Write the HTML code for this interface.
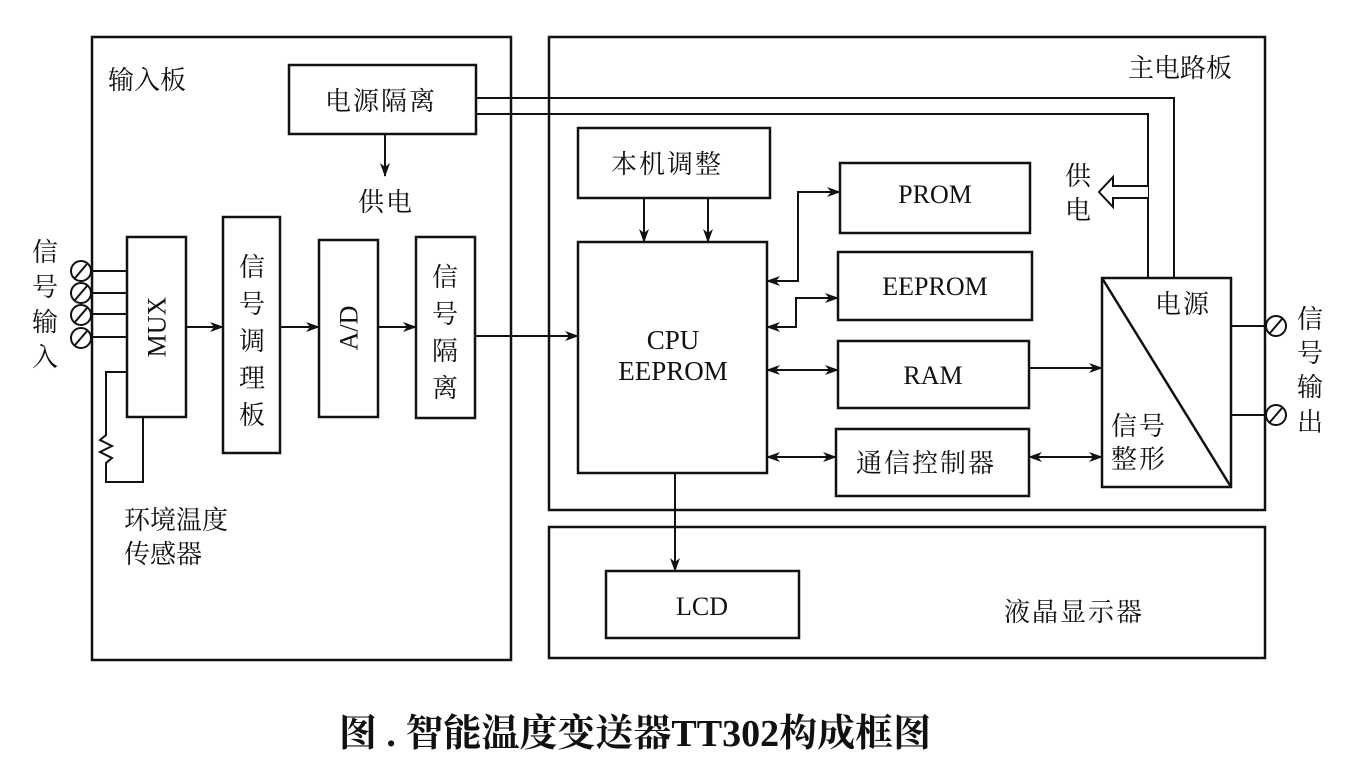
<!DOCTYPE html>
<html><head><meta charset="utf-8"><style>
html,body{margin:0;padding:0;background:#fff;}
svg{display:block;}
text{font-family:"Liberation Serif","Noto Serif CJK SC","Noto Sans CJK SC",serif;fill:#111;}
.c{font-family:"Noto Serif CJK SC","Noto Sans CJK SC",serif;font-size:26px;}
</style></head><body>
<svg width="1362" height="776" viewBox="0 0 1362 776" xmlns="http://www.w3.org/2000/svg">
<defs>
<marker id="a" markerWidth="14" markerHeight="10" refX="13" refY="5" orient="auto-start-reverse" markerUnits="userSpaceOnUse">
<path d="M0,0 L14,5 L0,10 L4,5 Z" fill="#111"/></marker>
</defs>
<g fill="none" stroke="#111" stroke-width="2.5">
<rect x="92" y="37" width="419" height="623"/>
<rect x="549" y="37" width="716" height="473"/>
<rect x="549" y="527" width="716" height="131"/>
<rect x="289" y="65" width="187" height="69"/>
<rect x="127" y="237" width="59" height="180"/>
<rect x="223" y="217" width="57" height="236"/>
<rect x="319" y="240" width="59" height="177"/>
<rect x="416" y="237" width="59" height="181"/>
<rect x="578" y="128" width="192" height="70"/>
<rect x="578" y="242" width="189" height="231"/>
<rect x="840" y="163" width="190" height="70"/>
<rect x="838" y="252" width="194" height="68"/>
<rect x="838" y="341" width="191" height="67"/>
<rect x="836" y="429" width="193" height="67"/>
<rect x="1102" y="278" width="129" height="209"/>
<line x1="1102" y1="278" x2="1231" y2="487"/>
<rect x="606" y="571" width="193" height="67"/>
</g>
<g fill="none" stroke="#111" stroke-width="2">
<line x1="92" y1="271" x2="127" y2="271"/>
<line x1="92" y1="293" x2="127" y2="293"/>
<line x1="92" y1="314" x2="127" y2="314"/>
<line x1="92" y1="337" x2="127" y2="337"/>
<circle cx="81" cy="271" r="10" fill="#fff"/><line x1="75" y1="278" x2="87" y2="264"/>
<circle cx="81" cy="293" r="10" fill="#fff"/><line x1="75" y1="300" x2="87" y2="286"/>
<circle cx="81" cy="315" r="10" fill="#fff"/><line x1="75" y1="322" x2="87" y2="308"/>
<circle cx="81" cy="338" r="10" fill="#fff"/><line x1="75" y1="345" x2="87" y2="331"/>
<polyline points="127,372 106,372 106,435 100,440 112,446 100,452 112,458 106,463 106,482 143,482 143,417"/>
<line x1="186" y1="327" x2="223" y2="327" marker-end="url(#a)"/>
<line x1="280" y1="327" x2="319" y2="327" marker-end="url(#a)"/>
<line x1="378" y1="327" x2="416" y2="327" marker-end="url(#a)"/>
<line x1="475" y1="336" x2="578" y2="336" marker-end="url(#a)"/>
<line x1="385" y1="134" x2="385" y2="176" marker-end="url(#a)"/>
<polyline points="476,98 1174,98 1174,278"/>
<polyline points="476,114 1148,114 1148,278"/>
<path d="M1148,186 L1113,186 L1113,177 L1099,192 L1113,207 L1113,198 L1148,198" fill="#fff"/>
<line x1="644" y1="198" x2="644" y2="242" marker-end="url(#a)"/>
<line x1="708" y1="198" x2="708" y2="242" marker-end="url(#a)"/>
<polyline points="767,281 798,281 798,192 840,192" marker-start="url(#a)" marker-end="url(#a)"/>
<polyline points="767,327 796,327 796,298 838,298" marker-start="url(#a)" marker-end="url(#a)"/>
<line x1="767" y1="370" x2="838" y2="370" marker-start="url(#a)" marker-end="url(#a)"/>
<line x1="767" y1="457" x2="836" y2="457" marker-start="url(#a)" marker-end="url(#a)"/>
<line x1="1029" y1="368" x2="1102" y2="368" marker-end="url(#a)"/>
<line x1="1029" y1="457" x2="1102" y2="457" marker-start="url(#a)" marker-end="url(#a)"/>
<line x1="675" y1="473" x2="675" y2="571" marker-end="url(#a)"/>
<line x1="1231" y1="326" x2="1265" y2="326"/>
<line x1="1231" y1="415" x2="1265" y2="415"/>
<circle cx="1276" cy="326" r="10" fill="#fff"/><line x1="1270" y1="333" x2="1282" y2="319"/>
<circle cx="1276" cy="415" r="10" fill="#fff"/><line x1="1270" y1="422" x2="1282" y2="408"/>
</g>
<g class="c">
<text x="108" y="89">输入板</text>
<text x="1128" y="77">主电路板</text>
<text x="325" y="110" letter-spacing="2">电源隔离</text>
<text x="358" y="211" letter-spacing="2">供电</text>
<text x="32" y="261">信</text><text x="32" y="296">号</text><text x="32" y="331">输</text><text x="32" y="366">入</text>
<text x="239" y="276">信</text><text x="239" y="313">号</text><text x="239" y="350">调</text><text x="239" y="387">理</text><text x="239" y="424">板</text>
<text x="432" y="286">信</text><text x="432" y="323">号</text><text x="432" y="360">隔</text><text x="432" y="397">离</text>
<text x="124" y="529">环境温度</text>
<text x="124" y="563">传感器</text>
<text x="611" y="173" letter-spacing="2">本机调整</text>
<text x="1065" y="185">供</text><text x="1065" y="219">电</text>
<text x="1155" y="313" letter-spacing="2">电源</text>
<text x="1111" y="435" letter-spacing="2">信号</text>
<text x="1111" y="468" letter-spacing="2">整形</text>
<text x="1297" y="328">信</text><text x="1297" y="362">号</text><text x="1297" y="396">输</text><text x="1297" y="431">出</text>
<text x="856" y="472" letter-spacing="2">通信控制器</text>
<text x="1004" y="621" letter-spacing="2">液晶显示器</text>
</g>
<g font-size="26">
<text x="157" y="327" text-anchor="middle" transform="rotate(-90 157 327)" dominant-baseline="central">MUX</text>
<text x="349" y="328" text-anchor="middle" transform="rotate(-90 349 328)" dominant-baseline="central">A/D</text>
<text x="673" y="349" text-anchor="middle" font-size="27">CPU</text>
<text x="673" y="380" text-anchor="middle" font-size="27">EEPROM</text>
<text x="935" y="203" text-anchor="middle">PROM</text>
<text x="935" y="295" text-anchor="middle">EEPROM</text>
<text x="933" y="384" text-anchor="middle">RAM</text>
<text x="702" y="615" text-anchor="middle">LCD</text>
</g>
<text x="635" y="746" text-anchor="middle" font-size="38" font-weight="bold" style='font-family:"Liberation Serif","Noto Serif CJK SC",serif'>图 . 智能温度变送器TT302构成框图</text>
</svg>
</body></html>
